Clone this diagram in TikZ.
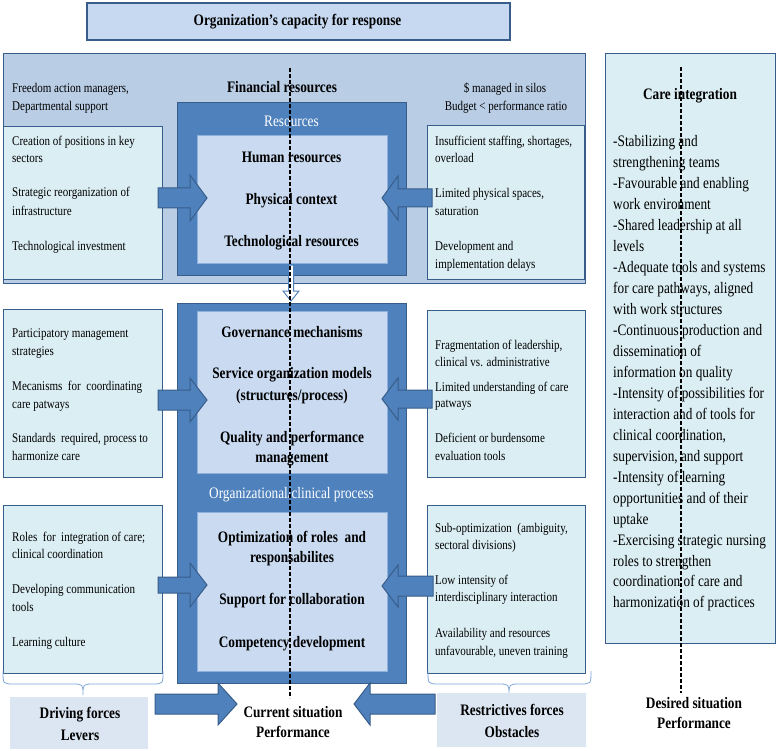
\documentclass[tikz,border=0pt]{standalone}
\usepackage{fontspec}
\setmainfont{Liberation Serif}[FakeStretch=0.83]
\usetikzlibrary{calc}
\definecolor{dkblue}{HTML}{4F81BD}
\definecolor{edge}{HTML}{385D8A}
\definecolor{finfill}{HTML}{B9CDE5}
\definecolor{lightbox}{HTML}{DBEEF4}
\definecolor{innerfill}{HTML}{C9DAF1}
\definecolor{inneredge}{HTML}{8DB0DC}
\definecolor{titlefill}{HTML}{C6D9F1}
\definecolor{labfill}{HTML}{DCE6F2}
\definecolor{bracecol}{HTML}{7EA6D8}
\tikzset{
  boxbase/.style={draw=edge, line width=1.4pt, inner sep=0pt, anchor=north west},
  lightbx/.style={boxbase, fill=lightbox},
  darkbx/.style={boxbase, fill=dkblue},
  finbx/.style={boxbase, fill=finfill},
  innerbx/.style={boxbase, draw=inneredge, fill=innerfill},
  titlebx/.style={boxbase, line width=1.8pt, fill=titlefill},
  labbx/.style={inner sep=0pt, anchor=north west, fill=labfill},
  txt/.style={inner sep=0pt, anchor=base west, font=\fontsize{13.3}{15}\selectfont},
  ctxt/.style={inner sep=0pt, anchor=base, font=\fontsize{13.3}{15}\selectfont},
  btxt/.style={inner sep=0pt, anchor=base, font=\bfseries\fontsize{16}{18}\selectfont},
  wtxt/.style={inner sep=0pt, anchor=base, text=white, font=\fontsize{16}{18}\selectfont},
  ltxt/.style={inner sep=0pt, anchor=base west, font=\fontsize{16}{18}\selectfont},
  blockarrow/.style={fill=dkblue, draw=edge, line width=1pt, line join=miter},
  midline/.style={black, line width=1.1pt, dash pattern=on 4pt off 2pt},
  bracepath/.style={draw=bracecol, line width=0.8pt}
}
\newcommand\bx[6]{\node[#2, minimum width=#5pt-#3pt, minimum height=#6pt-#4pt] (#1) at (#3,#4) {};}
\newcommand\rarrow[6]{\draw[blockarrow] (#1,#4-#5) -- (#2,#4-#5) -- (#2,#4-#6) -- (#3,#4) -- (#2,#4+#6) -- (#2,#4+#5) -- (#1,#4+#5) -- cycle;}
\begin{document}
\begin{tikzpicture}[x=1pt, y=-1pt]
\useasboundingbox (0,0) rectangle (778,751);
% title
\bx{title}{titlebx}{86}{2}{509}{39}
\node[btxt] (titletxt) at (297.5,26) {Organization’s capacity for response};
% financial
\bx{fin}{finbx}{3}{53}{585}{283}
\node[btxt] (fintxt) at (282,93) {Financial resources};
\node[txt] (fl1) at (12,93) {Freedom action managers,};
\node[txt] (fl2) at (12,111) {Departmental support};
\node[ctxt] (fr1) at (505,93) {\$ managed in silos};
\node[ctxt] (fr2) at (506,111) {Budget < performance ratio};
\bx{L1}{lightbx}{3}{126}{162}{279}
\bx{R1}{lightbx}{427}{125}{584}{279}
\bx{res}{darkbx}{177}{102}{406}{275}
\node[wtxt] (restxt) at (291.5,127) {Resources};
\bx{resin}{innerbx}{197}{135}{387}{263}
\node[btxt] (h1) at (291.5,163) {Human resources};
\node[btxt] (h2) at (291.5,205) {Physical context};
\node[btxt] (h3) at (291.5,247) {Technological resources};
\node[txt] (a1) at (12,146) {Creation of positions in key};
\node[txt] (a2) at (12,163) {sectors};
\node[txt] (a3) at (12,197) {Strategic reorganization of};
\node[txt] (a4) at (12,215) {infrastructure};
\node[txt] (a5) at (12,250) {Technological investment};
\node[txt] (b1) at (435,146) {Insufficient staffing, shortages,};
\node[txt] (b2) at (435,163) {overload};
\node[txt] (b3) at (435,198) {Limited physical spaces,};
\node[txt] (b4) at (435,215) {saturation};
\node[txt] (b5) at (435,250) {Development and};
\node[txt] (b6) at (435,268) {implementation delays};
% process
\bx{proc}{darkbx}{177}{303}{406}{683}
\bx{gov}{innerbx}{197}{311}{387}{473}
\bx{clin}{innerbx}{197}{512}{387}{671}
\node[btxt] (g1) at (292,337) {Governance mechanisms};
\node[btxt] (g2) at (292,378) {Service organization models};
\node[btxt] (g3) at (292,400) {(structures/process)};
\node[btxt] (g4) at (292,442) {Quality and performance};
\node[btxt] (g5) at (292,462) {management};
\node[wtxt] (proctxt) at (291.5,498) {Organizational/clinical process};
\node[btxt] (c1) at (292,542) {Optimization of roles\ \ and};
\node[btxt] (c2) at (292,562) {responsabilites};
\node[btxt] (c3) at (292,604) {Support for collaboration};
\node[btxt] (c4) at (292,647) {Competency development};
\bx{L2}{lightbx}{3}{309}{162}{477}
\bx{R2}{lightbx}{427}{310}{585}{477}
\bx{L3}{lightbx}{3}{505}{162}{673}
\bx{R3}{lightbx}{427}{505}{585}{673}
\node[txt] (d1) at (12,337) {Participatory management};
\node[txt] (d2) at (12,355) {strategies};
\node[txt] (d3) at (12,390) {Mecanisms\ \ for\ \ coordinating};
\node[txt] (d4) at (12,408) {care patways};
\node[txt] (d5) at (12,442) {Standards\ \ required, process to};
\node[txt] (d6) at (12,460) {harmonize care};
\node[txt] (e1) at (435,349) {Fragmentation of leadership,};
\node[txt] (e2) at (435,366) {clinical vs. administrative};
\node[txt] (e3) at (435,391) {Limited understanding of care};
\node[txt] (e4) at (435,407) {patways};
\node[txt] (e5) at (435,442) {Deficient or burdensome};
\node[txt] (e6) at (435,460) {evaluation tools};
\node[txt] (f1) at (12,541) {Roles\ \ for\ \ integration of care;};
\node[txt] (f2) at (12,558) {clinical coordination};
\node[txt] (f3) at (12,593) {Developing communication};
\node[txt] (f4) at (12,611) {tools};
\node[txt] (f5) at (12,646) {Learning culture};
\node[txt] (k1) at (435,532) {Sub-optimization\ \ (ambiguity,};
\node[txt] (k2) at (435,549) {sectoral divisions)};
\node[txt] (k3) at (435,584) {Low intensity of};
\node[txt] (k4) at (435,601) {interdisciplinary interaction};
\node[txt] (k5) at (435,637) {Availability and resources};
\node[txt] (k6) at (435,655) {unfavourable, uneven training};
% block arrows
\rarrow{158}{190}{207}{198}{10}{23}
\rarrow{432}{398}{382}{198}{9}{22}
\rarrow{158}{190}{207}{400}{10}{22}
\rarrow{432}{398}{382}{399}{9}{21}
\rarrow{158}{190}{207}{585}{8}{22}
\rarrow{433}{398}{382}{586}{10}{21}
\rarrow{155}{218}{237}{704}{10}{21}
\rarrow{435}{370}{354}{704}{10}{21}
% small arrow between resources and process
\draw[fill=white, draw=dkblue, line width=1pt] (288.5,265) -- (293.5,265) -- (293.5,291) -- (299,291) -- (291,301) -- (283,291) -- (288.5,291) -- cycle;
% right panel
\bx{panel}{lightbx}{605}{53}{775}{643}
\node[btxt] (cartxt) at (690,100) {Care integration};
\foreach \t [count=\i from 0] in {-Stabilizing and, strengthening teams, -Favourable and enabling, work environment, -Shared leadership at all, levels, -Adequate tools and systems, {for care pathways, aligned}, with work structures, -Continuous production and, dissemination of, information on quality, -Intensity of possibilities for, interaction and of tools for, {clinical coordination,}, {supervision, and support}, -Intensity of learning, opportunities and of their, uptake, -Exercising strategic nursing, roles to strengthen, coordination of care and, harmonization of practices}
  \node[ltxt] (p\i) at (613,147+20.95*\i) {\t};
% braces
\draw[bracepath] (3,671) .. controls (3,684) .. (14,684) -- (72,684) .. controls (83,684) .. (83,695) .. controls (83,684) .. (94,684) -- (152,684) .. controls (163,684) .. (163,671);
\draw[bracepath] (428,671) .. controls (428,684) .. (439,684) -- (498,684) .. controls (509,684) .. (509,695) .. controls (509,684) .. (520,684) -- (580,684) .. controls (591,684) .. (591,671);
% labels
\bx{drive}{labbx}{10}{697}{148}{749}
\node[btxt] (dr1) at (80,718) {Driving forces};
\node[btxt] (dr2) at (80,740) {Levers};
\bx{restr}{labbx}{437}{693}{586}{747}
\node[btxt] (rs1) at (512,715) {Restrictives forces};
\node[btxt] (rs2) at (512,737) {Obstacles};
\node[btxt] (cu1) at (293,717) {Current situation};
\node[btxt] (cu2) at (293,737) {Performance};
\node[btxt] (de1) at (694,708) {Desired situation};
\node[btxt] (de2) at (694,728) {Performance};
% dashed axes
\coordinate (mtop) at (290,68);
\coordinate (mbot) at (290,698);
\coordinate (ptop) at (681,67);
\coordinate (pbot) at (681,693);
\draw[midline] (mtop) -- (mbot);
\draw[midline] (ptop) -- (pbot);
\end{tikzpicture}
\end{document}
